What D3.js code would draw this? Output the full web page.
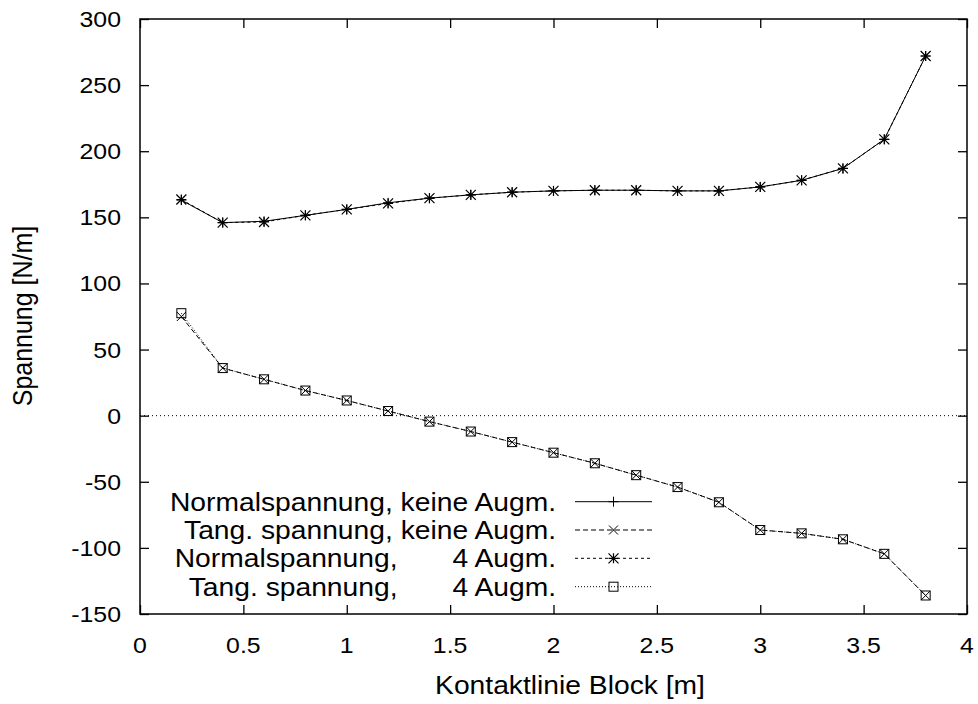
<!DOCTYPE html>
<html>
<head>
<meta charset="utf-8">
<script src="https://cdn.jsdelivr.net/npm/d3@7"></script>
<style>
  body { margin: 0; background: #fff; }
  svg { display: block; }
  text { font-family: "Liberation Sans", Arial, sans-serif; fill: #000; white-space: pre; }
</style>
</head>
<body>
<div id="chart"></div>
<script>
// positions along the contact line [m]
const xs = [0.2, 0.4, 0.6, 0.8, 1.0, 1.2, 1.4, 1.6, 1.8, 2.0, 2.2, 2.4, 2.6, 2.8, 3.0, 3.2, 3.4, 3.6, 3.8];

const normalKeine = [163, 146, 147, 151.5, 156, 161, 164.5, 167, 169, 170, 170.5, 170.5, 170, 170, 173, 178, 187, 209, 272];
const tangKeine   = [75, 36, 27.5, 19, 11.5, 3.5, -4.5, -12, -20, -28, -36, -45, -54, -65.5, -86.5, -89, -93.5, -104.5, -136];
const normal4     = [163.5, 146, 146.5, 151.5, 156, 160.5, 164.5, 167, 169, 170, 170.5, 170.5, 170, 170, 173, 178, 187, 209, 272];
const tang4       = [77.5, 36, 27.5, 19, 11.5, 3.5, -4.5, -12, -20, -28, -36, -45, -54, -65.5, -86.5, -89, -93.5, -104.5, -136];

const xTicks = [0, 0.5, 1, 1.5, 2, 2.5, 3, 3.5, 4];
const yTicks = [-150, -100, -50, 0, 50, 100, 150, 200, 250, 300];

const legendLabels = [
  "Normalspannung, keine Augm.",
  "Tang. spannung, keine Augm.",
  "Normalspannung,       4 Augm.",
  "Tang. spannung,       4 Augm."
];

const W = 978, H = 704;
const pL = 140, pT = 19, pR = 967, pB = 614;
const SX = 1.13; // text in the original is slightly wider than the font

const x = d3.scaleLinear().domain([0, 4]).range([pL, pR]);
const y = d3.scaleLinear().domain([-150, 300]).range([pB, pT]);

const svg = d3.select('#chart').append('svg')
  .attr('width', W).attr('height', H);

function label(g, tx, ty, str, size, anchor, rot) {
  return g.append('text')
    .attr('transform', 'translate(' + tx + ',' + ty + ') scale(' + SX + ',1)' + (rot ? ' rotate(' + rot + ')' : ''))
    .attr('text-anchor', anchor)
    .style('font-size', size + 'px')
    .text(str);
}

// zero line
svg.append('line')
  .attr('x1', pL).attr('x2', pR)
  .attr('y1', y(0)).attr('y2', y(0))
  .attr('stroke', '#000').attr('stroke-width', 1)
  .attr('stroke-dasharray', '1,3');

// axes with inward ticks on all sides
const tl = 9;
const axB = d3.axisBottom(x).tickValues(xTicks).tickSize(-tl).tickFormat('');
const axT = d3.axisTop(x).tickValues(xTicks).tickSize(-tl).tickFormat('');
const axL = d3.axisLeft(y).tickValues(yTicks).tickSize(-tl).tickFormat('');
const axR = d3.axisRight(y).tickValues(yTicks).tickSize(-tl).tickFormat('');
[[axB, 'translate(0,' + pB + ')'], [axT, 'translate(0,' + pT + ')'],
 [axL, 'translate(' + pL + ',0)'], [axR, 'translate(' + pR + ',0)']].forEach(function (a) {
  const g = svg.append('g').attr('transform', a[1]).call(a[0]);
  g.select('.domain').remove();
  g.selectAll('line').attr('stroke', '#000').attr('stroke-width', 1.3);
});

// frame
svg.append('rect')
  .attr('x', pL).attr('y', pT)
  .attr('width', pR - pL).attr('height', pB - pT)
  .attr('fill', 'none').attr('stroke', '#000').attr('stroke-width', 1.5);

// tick labels
yTicks.forEach(function (v) {
  label(svg, 121, y(v) + 8, String(v), 22, 'end');
});
xTicks.forEach(function (v) {
  label(svg, x(v), 653, String(v), 22, 'middle');
});

// axis titles
label(svg, 570, 694, 'Kontaktlinie Block [m]', 25, 'middle');
label(svg, 32, 316, 'Spannung [N/m]', 25, 'middle', -90);

// markers
function plusM(g, cx, cy) {
  const s = 5;
  g.append('path').attr('d', 'M' + (cx - s) + ',' + cy + 'H' + (cx + s) + 'M' + cx + ',' + (cy - s) + 'V' + (cy + s))
    .attr('stroke', '#000').attr('fill', 'none').attr('stroke-width', 1);
}
function crossM(g, cx, cy) {
  const s = 4.5;
  g.append('path').attr('d', 'M' + (cx - s) + ',' + (cy - s) + 'L' + (cx + s) + ',' + (cy + s) + 'M' + (cx - s) + ',' + (cy + s) + 'L' + (cx + s) + ',' + (cy - s))
    .attr('stroke', '#000').attr('fill', 'none').attr('stroke-width', 1);
}
function starM(g, cx, cy) {
  const s = 5;
  g.append('path').attr('d',
    'M' + (cx - s) + ',' + cy + 'H' + (cx + s) + 'M' + cx + ',' + (cy - s) + 'V' + (cy + s) +
    'M' + (cx - s) + ',' + (cy - s) + 'L' + (cx + s) + ',' + (cy + s) + 'M' + (cx - s) + ',' + (cy + s) + 'L' + (cx + s) + ',' + (cy - s))
    .attr('stroke', '#000').attr('fill', 'none').attr('stroke-width', 1.2);
}
function boxM(g, cx, cy) {
  const s = 4.5;
  g.append('rect').attr('x', cx - s).attr('y', cy - s).attr('width', 2 * s).attr('height', 2 * s)
    .attr('stroke', '#000').attr('fill', 'none').attr('stroke-width', 1);
}

const series = [
  { vals: normalKeine, dash: null, mark: plusM },
  { vals: tangKeine, dash: '5,3', mark: crossM },
  { vals: normal4, dash: '3,3', mark: starM },
  { vals: tang4, dash: '1,2', mark: boxM }
];

const line = d3.line().x(function (d) { return x(d[0]); }).y(function (d) { return y(d[1]); });

series.forEach(function (s) {
  const pts = xs.map(function (v, i) { return [v, s.vals[i]]; });
  const g = svg.append('g');
  g.append('path').attr('d', line(pts))
    .attr('fill', 'none').attr('stroke', '#000').attr('stroke-width', 1)
    .attr('stroke-dasharray', s.dash);
  pts.forEach(function (p) { s.mark(g, x(p[0]), y(p[1])); });
});

// legend
const legY = [501.7, 530, 558.3, 586.7];
series.forEach(function (s, i) {
  const g = svg.append('g');
  label(g, 556, legY[i] + 9, legendLabels[i], 25, 'end');
  g.append('line').attr('x1', 575).attr('x2', 652).attr('y1', legY[i]).attr('y2', legY[i])
    .attr('stroke', '#000').attr('stroke-width', 1).attr('stroke-dasharray', s.dash);
  s.mark(g, 613.5, legY[i]);
});
</script>
</body>
</html>
